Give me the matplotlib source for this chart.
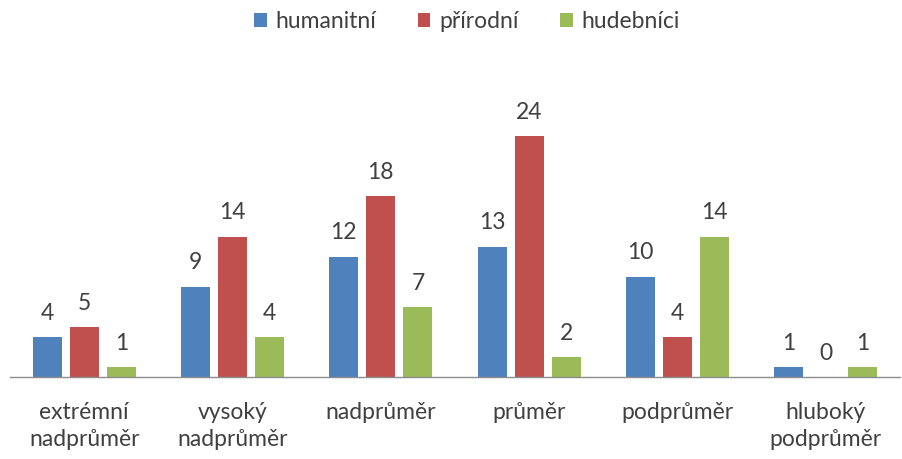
import matplotlib
matplotlib.use("Agg")
import matplotlib.pyplot as plt
import numpy as np

plt.rcParams['font.family'] = ['Lato', 'DejaVu Sans']

categories = ["extrémní\nnadprůměr", "vysoký\nnadprůměr", "nadprůměr", "průměr", "podprůměr", "hluboký\npodprůměr"]
series_names = ["humanitní", "přírodní", "hudebníci"]
humanitni = [4, 9, 12, 13, 10, 1]
prirodni = [5, 14, 18, 24, 4, 0]
hudebnici = [1, 4, 7, 2, 14, 1]
colors = ["#4F81BD", "#C0504D", "#9BBB59"]

fig = plt.figure(figsize=(9.03, 4.59), dpi=100)
ax = fig.add_axes([10/903, 1-377/459, 890/903, 281/459])

x = np.arange(len(categories))
width = 0.196
pitch = 0.25
text_color = "#404040"
fs = 16.5
for i, (vals, name, c) in enumerate(zip([humanitni, prirodni, hudebnici], series_names, colors)):
    pos = x + (i - 1) * pitch
    ax.bar(pos, vals, width, color=c, label=name)
    for p, v in zip(pos, vals):
        ax.annotate(str(v), (p, v), xytext=(0, 9.5), textcoords="offset points",
                    ha="center", va="bottom", fontsize=fs, color=text_color)

ax.set_xlim(-0.5, len(categories) - 0.5)
ax.set_ylim(0, 28)
ax.set_yticks([])
for s in ["top", "right", "left"]:
    ax.spines[s].set_visible(False)
ax.spines["bottom"].set_color("#8c8c8c")
ax.spines["bottom"].set_linewidth(1)
ax.set_xticks(x)
ax.set_xticklabels(categories, fontsize=fs, color=text_color, linespacing=1.35)
ax.tick_params(axis="x", length=0, pad=18)

leg = fig.legend(loc="center", bbox_to_anchor=(467/903, 1-22/459), ncol=3, frameon=False,
                 fontsize=fs, handlelength=0.55, handleheight=0.55, handletextpad=0.4,
                 columnspacing=1.8)
for t in leg.get_texts():
    t.set_color(text_color)

fig.savefig("out.png", dpi=100)
